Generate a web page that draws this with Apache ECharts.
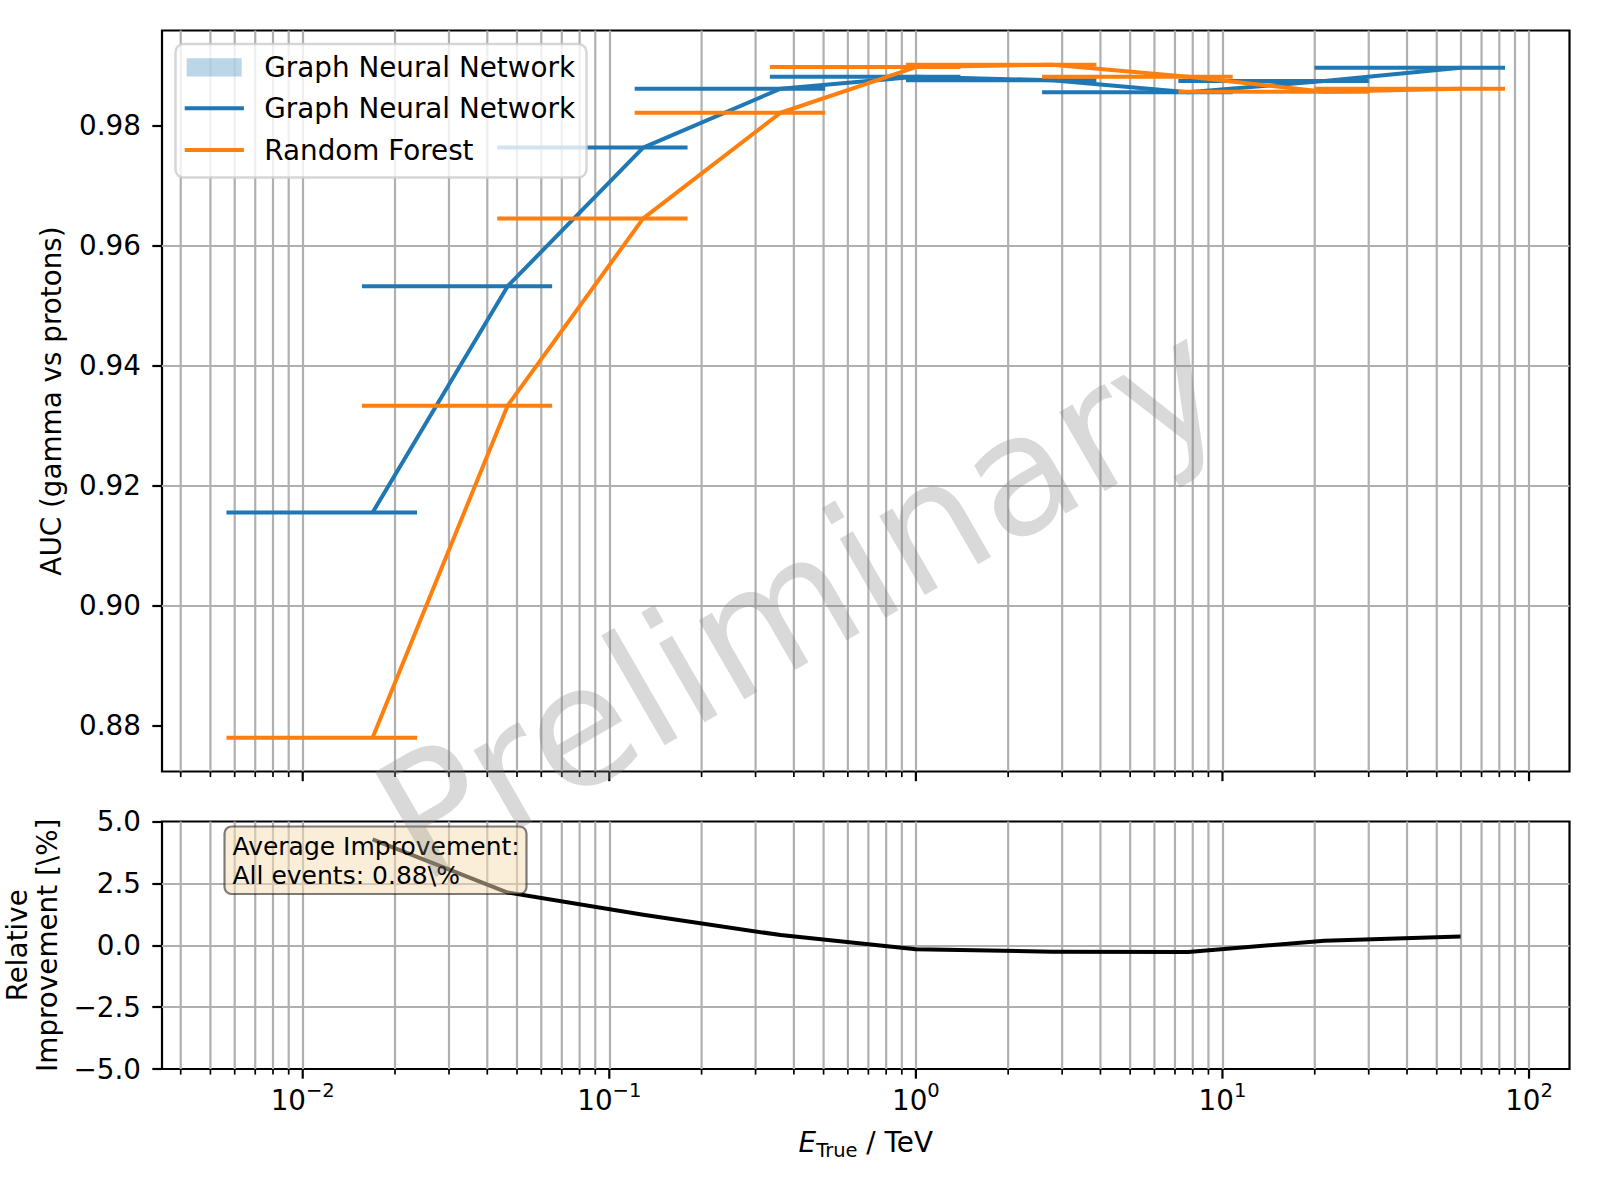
<!DOCTYPE html>
<html>
<head>
<meta charset="utf-8">
<title>AUC vs true energy</title>
<script src="https://cdn.jsdelivr.net/npm/echarts@6/dist/echarts.min.js"></script>
<style>
  html, body { margin: 0; padding: 0; background: #fff; }
  #chart { width: 1600px; height: 1200px; }
</style>
</head>
<body>
<div id="chart"></div>
<script>
// energy bins (TeV): point position and horizontal bar ends
const energy = [0.0169, 0.0466, 0.129, 0.362, 1.0, 2.78, 7.73, 21.5, 59.8];
const binLow = [0.00564, 0.0156, 0.0431, 0.121, 0.334, 0.928, 2.58, 7.18, 19.97];
const binHigh = [0.0236, 0.0651, 0.180, 0.506, 1.397, 3.88, 10.8, 30.0, 83.5];
// AUC per bin
const aucGnn = [0.9155, 0.9532, 0.9763, 0.9861, 0.9881, 0.9875, 0.9855, 0.9874, 0.9896];
const aucRf = [0.8780, 0.9333, 0.9645, 0.9821, 0.9897, 0.9901, 0.9881, 0.9856, 0.9861];
// relative improvement in %
const improvement = [4.28, 2.13, 1.23, 0.41, -0.16, -0.26, -0.27, 0.18, 0.35];
// tick labels
const aucTicks = [0.88, 0.90, 0.92, 0.94, 0.96, 0.98];
const impTicks = [-5, -2.5, 0, 2.5, 5];
const decades = [-2, -1, 0, 1, 2];

const FONT = 'DejaVu Sans';
const BLUE = '#1f77b4';
const ORANGE = '#ff7f0e';
const GRID = '#b0b0b0';
const FS = 27.8;
const lg = Math.log10;

// x axis works in log10(E)
const xMin = -2.459, xMax = 2.132;

const minorTicks = [];
for (let e = -3; e <= 2; e++) {
  for (let k = 2; k <= 9; k++) {
    const v = e + lg(k);
    if (v > xMin && v < xMax) minorTicks.push(v);
  }
}

const minus = s => s.replace('-', '\u2212');

// log grid lines + tick marks (echarts minor ticks are linear)
function logTicks(idx) {
  return {
    type: 'custom',
    xAxisIndex: idx,
    yAxisIndex: idx,
    silent: true,
    z: 1,
    clip: false,
    data: decades.map(v => [v, 1]).concat(minorTicks.map(v => [v, 0])),
    encode: { x: 0 },
    renderItem(params, api) {
      const cs = params.coordSys;
      const px = api.coord([api.value(0), 0])[0];
      const major = api.value(1) === 1;
      const bottom = cs.y + cs.height;
      const children = [];
      if (!major) {
        children.push({
          type: 'line',
          shape: { x1: px, y1: cs.y, x2: px, y2: bottom },
          style: { stroke: GRID, lineWidth: 2.2 }
        });
      }
      children.push({
        type: 'line',
        shape: { x1: px, y1: bottom, x2: px, y2: bottom + (major ? 9.7 : 5.6) },
        style: { stroke: '#000', lineWidth: major ? 2.2 : 1.7 }
      });
      return { type: 'group', children };
    }
  };
}

function binBars(name, values, color, z) {
  return {
    type: 'custom',
    name: name,
    xAxisIndex: 0,
    yAxisIndex: 0,
    silent: true,
    z: z,
    data: values.map((v, i) => [lg(binLow[i]), lg(binHigh[i]), v]),
    encode: { x: [0, 1], y: 2 },
    renderItem(params, api) {
      const a = api.coord([api.value(0), api.value(2)]);
      const b = api.coord([api.value(1), api.value(2)]);
      return {
        type: 'line',
        shape: { x1: a[0], y1: a[1], x2: b[0], y2: b[1] },
        style: { stroke: color, lineWidth: 4 }
      };
    }
  };
}

const chart = echarts.init(document.getElementById('chart'), null, { renderer: 'svg' });

const xCommon = {
  type: 'value',
  min: xMin,
  max: xMax,
  splitNumber: 4,
  axisLine: { show: false, onZero: false },
  axisTick: { show: false },
  splitLine: { show: true, showMinLine: false, showMaxLine: false, lineStyle: { color: GRID, width: 2.2 } }
};

const txt = (x, y, text, size) => ({
  type: 'text', x: x, y: y, z: 60,
  style: { text: text, fontSize: size, fontFamily: FONT, fill: '#000', verticalAlign: 'middle', textVerticalAlign: 'middle' }
});

chart.setOption({
  animation: false,
  textStyle: { fontFamily: FONT },
  grid: [
    { left: 162, top: 30.5, width: 1407.5, height: 741, outerBoundsMode: 'none', containLabel: false,
      show: true, borderColor: '#000', borderWidth: 2.2, backgroundColor: 'transparent' },
    { left: 162, top: 821.5, width: 1407.5, height: 247.5, outerBoundsMode: 'none', containLabel: false,
      show: true, borderColor: '#000', borderWidth: 2.2, backgroundColor: 'transparent' }
  ],
  xAxis: [
    Object.assign({ gridIndex: 0, axisLabel: { show: false } }, xCommon),
    Object.assign({
      gridIndex: 1,
      name: '{i|E}{sub|True}{t| / TeV}',
      nameLocation: 'middle',
      nameGap: 61,
      nameTextStyle: {
        rich: {
          i: { fontSize: FS, fontFamily: FONT, fontStyle: 'italic', color: '#000', lineHeight: 30, verticalAlign: 'bottom', padding: [0, 0, 4, 0] },
          t: { fontSize: FS, fontFamily: FONT, color: '#000', lineHeight: 30, verticalAlign: 'bottom', padding: [0, 0, 4, 0] },
          sub: { fontSize: 19.5, fontFamily: FONT, color: '#000', lineHeight: 22, verticalAlign: 'bottom' }
        }
      },
      axisLabel: {
        show: true,
        margin: 15,
        showMinLabel: false,
        showMaxLabel: false,
        formatter: v => '{b|10}{s|' + minus(String(v)) + '}',
        rich: {
          b: { fontSize: FS, fontFamily: FONT, color: '#000', lineHeight: 30, verticalAlign: 'bottom' },
          s: { fontSize: 19.5, fontFamily: FONT, color: '#000', lineHeight: 22, verticalAlign: 'bottom', padding: [0, 0, 14, 0] }
        }
      }
    }, xCommon)
  ],
  yAxis: [
    {
      type: 'value',
      gridIndex: 0,
      min: 0.87236,
      max: 0.9958,
      splitNumber: 6,
      name: 'AUC (gamma vs protons)',
      nameLocation: 'middle',
      nameGap: 97,
      nameTextStyle: { fontSize: FS, fontFamily: FONT, color: '#000' },
      axisLine: { show: false, onZero: false },
      axisTick: { show: true, length: 9.7, customValues: aucTicks, lineStyle: { color: '#000', width: 2.2 } },
      axisLabel: {
        margin: 21, fontSize: FS, fontFamily: FONT, color: '#000',
        showMinLabel: false, showMaxLabel: false,
        formatter: v => v.toFixed(2)
      },
      splitLine: { show: true, showMinLine: false, showMaxLine: false, lineStyle: { color: GRID, width: 2.2 } }
    },
    {
      type: 'value',
      gridIndex: 1,
      min: -5,
      max: 5,
      interval: 2.5,
      name: 'Relative\nImprovement [\\%]',
      nameLocation: 'middle',
      nameGap: 99,
      nameTextStyle: { fontSize: FS, fontFamily: FONT, color: '#000', lineHeight: 30 },
      axisLine: { show: false, onZero: false },
      axisTick: { show: true, length: 9.7, customValues: impTicks, lineStyle: { color: '#000', width: 2.2 } },
      axisLabel: {
        margin: 21, fontSize: FS, fontFamily: FONT, color: '#000',
        formatter: v => minus(v.toFixed(1))
      },
      splitLine: { show: true, showMinLine: false, showMaxLine: false, lineStyle: { color: GRID, width: 2.2 } }
    }
  ],
  series: [
    logTicks(0),
    logTicks(1),
    binBars('GNN bins', aucGnn, BLUE, 3),
    {
      type: 'line',
      name: 'Graph Neural Network',
      xAxisIndex: 0,
      yAxisIndex: 0,
      z: 3,
      symbol: 'none',
      data: energy.map((e, i) => [lg(e), aucGnn[i]]),
      lineStyle: { color: BLUE, width: 4, join: 'round' },
      itemStyle: { color: BLUE }
    },
    binBars('RF bins', aucRf, ORANGE, 4),
    {
      type: 'line',
      name: 'Random Forest',
      xAxisIndex: 0,
      yAxisIndex: 0,
      z: 4,
      symbol: 'none',
      data: energy.map((e, i) => [lg(e), aucRf[i]]),
      lineStyle: { color: ORANGE, width: 4, join: 'round' },
      itemStyle: { color: ORANGE }
    },
    {
      type: 'line',
      name: 'Relative Improvement',
      xAxisIndex: 1,
      yAxisIndex: 1,
      z: 3,
      symbol: 'none',
      data: energy.map((e, i) => [lg(e), improvement[i]]),
      lineStyle: { color: '#000', width: 4, join: 'round' },
      itemStyle: { color: '#000' }
    }
  ],
  graphic: [
    // legend
    { type: 'rect', z: 50, shape: { x: 175.5, y: 44, width: 411, height: 133.5, r: 8 },
      style: { fill: 'rgba(255,255,255,0.8)', stroke: 'rgba(204,204,204,0.8)', lineWidth: 2.5 } },
    { type: 'rect', z: 55, shape: { x: 186.7, y: 58.2, width: 55, height: 18.3 },
      style: { fill: 'rgba(31,119,180,0.3)' } },
    { type: 'line', z: 55, shape: { x1: 184.7, y1: 108.2, x2: 243.9, y2: 108.2 },
      style: { stroke: BLUE, lineWidth: 4 } },
    { type: 'line', z: 55, shape: { x1: 184.7, y1: 150, x2: 243.9, y2: 150 },
      style: { stroke: ORANGE, lineWidth: 4 } },
    txt(264.3, 67.3, 'Graph Neural Network', FS),
    txt(264.3, 108.2, 'Graph Neural Network', FS),
    txt(264.3, 150, 'Random Forest', FS),
    // average improvement box
    { type: 'rect', z: 50, shape: { x: 224.5, y: 826.5, width: 302, height: 67.5, r: 7 },
      style: { fill: 'rgba(245,222,179,0.5)', stroke: 'rgba(0,0,0,0.5)', lineWidth: 2.2 } },
    txt(232.5, 846, 'Average Improvement:', 25),
    txt(232.5, 875.5, 'All events: 0.88\\%', 25),
    // watermark
    {
      type: 'text',
      z: 100,
      x: 800,
      y: 600,
      rotation: Math.PI / 6,
      silent: true,
      style: {
        text: 'Preliminary', fontSize: 166.7, fontFamily: FONT, fill: 'rgba(128,128,128,0.3)',
        align: 'center', verticalAlign: 'middle', textAlign: 'center', textVerticalAlign: 'middle'
      }
    }
  ]
});
</script>
</body>
</html>
